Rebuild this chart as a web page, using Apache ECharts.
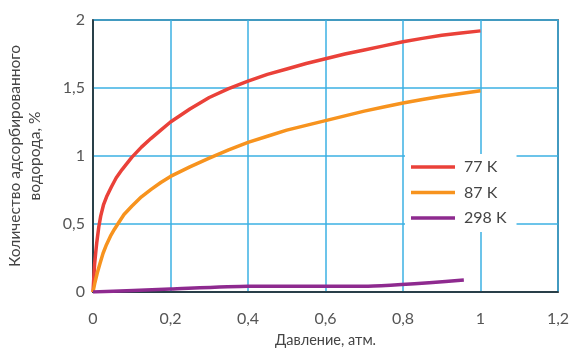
<!DOCTYPE html>
<html><head><meta charset="utf-8">
<script src="https://cdn.jsdelivr.net/npm/echarts@6/dist/echarts.min.js"></script>
<style>html,body{margin:0;padding:0;background:#fff}#c{width:571px;height:355px}</style>
</head><body><div id="c"></div>
<script>
const seriesNames = ['77 K', '87 K', '298 K'];
const red77 = [[0,0],[0.002,0.1],[0.004,0.2],[0.007,0.29],[0.01,0.37],[0.015,0.48],[0.02,0.56],[0.027,0.64],[0.035,0.7],[0.047,0.77],[0.06,0.84],[0.075,0.9],[0.1,0.99],[0.125,1.065],[0.15,1.13],[0.175,1.19],[0.2,1.25],[0.25,1.345],[0.3,1.43],[0.35,1.495],[0.4,1.55],[0.45,1.6],[0.5,1.64],[0.55,1.68],[0.6,1.715],[0.65,1.75],[0.7,1.78],[0.75,1.81],[0.8,1.84],[0.85,1.865],[0.9,1.888],[0.95,1.905],[1.0,1.92]];
const orange87 = [[0,0],[0.005,0.07],[0.011,0.14],[0.018,0.21],[0.026,0.285],[0.035,0.35],[0.045,0.41],[0.055,0.46],[0.064,0.5],[0.08,0.57],[0.1,0.63],[0.125,0.7],[0.15,0.755],[0.175,0.805],[0.2,0.85],[0.25,0.92],[0.3,0.985],[0.35,1.045],[0.4,1.1],[0.45,1.145],[0.5,1.19],[0.55,1.225],[0.6,1.26],[0.65,1.295],[0.7,1.33],[0.75,1.36],[0.8,1.39],[0.85,1.415],[0.9,1.44],[0.95,1.46],[1.0,1.48]];
const purple298 = [[0,0],[0.2,0.022],[0.4,0.043],[0.71,0.043],[0.957,0.088]];
const xTicks = {min:0, max:1.2, interval:0.2};
const yTicks = {min:0, max:2, interval:0.5};
const fmt = v => String(+v.toFixed(1)).replace('.', ',');
const chart = echarts.init(document.getElementById('c'), null, {renderer:'canvas'});
const font = 'Lato, "Noto Sans", sans-serif';
chart.setOption({
  animation:false,
  grid:{left:93,right:13,top:20,bottom:63,outerBoundsMode:'none',containLabel:false,show:true,borderColor:'#222',borderWidth:1.5,backgroundColor:'transparent'},
  xAxis:{type:'value',min:xTicks.min,max:xTicks.max,interval:xTicks.interval,
    name:'Давление, атм.',nameLocation:'middle',nameGap:41,
    nameTextStyle:{color:'#444',fontSize:14.5,fontFamily:font},
    axisLine:{show:true,lineStyle:{color:'#222',width:1.5}},axisTick:{show:false},
    axisLabel:{color:'#555',fontSize:16,fontFamily:font,margin:19,formatter:fmt},
    splitLine:{show:true,lineStyle:{color:'#3bb0e3',width:1.5}}},
  yAxis:{type:'value',min:yTicks.min,max:yTicks.max,interval:yTicks.interval,
    name:'Количество адсорбированного\nводорода, %',nameLocation:'middle',nameGap:48,
    nameTextStyle:{color:'#444',fontSize:15.5,fontFamily:font,lineHeight:20},
    axisLine:{show:true,lineStyle:{color:'#222',width:1.5}},axisTick:{show:false},
    axisLabel:{color:'#555',fontSize:16,fontFamily:font,margin:8,formatter:fmt},
    splitLine:{show:true,lineStyle:{color:'#3bb0e3',width:1.5}}},
  legend:{left:405,top:154,orient:'vertical',itemGap:9.5,itemWidth:44,itemHeight:3.5,icon:'rect',
    padding:[5,10,6,6],backgroundColor:'#fff',
    textStyle:{color:'#444',fontSize:16,fontFamily:font,lineHeight:16,padding:[0,0,0,4]},
    data:seriesNames},
  series:[
    {name:seriesNames[0],type:'line',data:red77,smooth:false,symbol:'none',lineStyle:{color:'#ea4139',width:3.5,join:'round'},itemStyle:{color:'#ea4139'}},
    {name:seriesNames[1],type:'line',data:orange87,smooth:false,symbol:'none',lineStyle:{color:'#f7931e',width:3.5,join:'round'},itemStyle:{color:'#f7931e'}},
    {name:seriesNames[2],type:'line',data:purple298,smooth:0.2,symbol:'none',lineStyle:{color:'#8e2a8f',width:3.5},itemStyle:{color:'#8e2a8f'}}
  ]
});
</script></body></html>
